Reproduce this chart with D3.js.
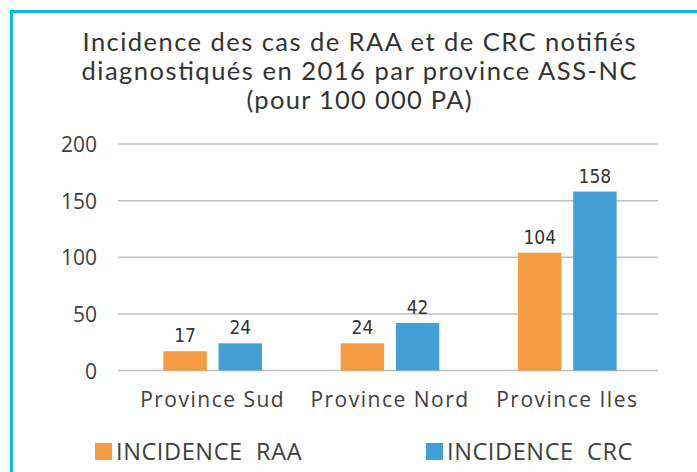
<!DOCTYPE html>
<html>
<head>
<meta charset="utf-8">
<script src="https://cdn.jsdelivr.net/npm/d3@7"></script>
<style>
  body { margin: 0; background: #fff; }
  svg { display: block; }
</style>
</head>
<body>
<div id="chart"></div>
<script>
// data
var provinces = ["Province Sud", "Province Nord", "Province Iles"];
var seriesNames = ["INCIDENCE  RAA", "INCIDENCE  CRC"];
var raa = [17, 24, 104];
var crc = [24, 42, 158];
var yTicks = [0, 50, 100, 150, 200];
var titleLines = ["Incidence des cas de RAA et de CRC notifiés",
                  "diagnostiqués en 2016 par province ASS-NC",
                  "(pour 100 000 PA)"];
var titleWidths = [553, 555, 225];
var colors = ["#f59b42", "#42a0d6"];

var width = 697, height = 472;
var font = "'Open Sans', Lato, sans-serif";

var svg = d3.select("#chart").append("svg")
    .attr("width", width)
    .attr("height", height);

// light blue frame, open on the right and bottom
svg.append("path")
    .attr("d", "M11.5," + height + "V11.5H" + width)
    .attr("fill", "none")
    .attr("stroke", "#12b5ee")
    .attr("stroke-width", 3);

// title
svg.append("g").selectAll("text")
    .data(titleLines)
    .enter().append("text")
    .attr("x", 359)
    .attr("y", function(d, i) { return 51 + i * 29; })
    .attr("text-anchor", "middle")
    .attr("font-family", "Lato, 'Open Sans', sans-serif")
    .attr("font-size", "25.5px")
    .attr("textLength", function(d, i) { return titleWidths[i]; })
    .attr("lengthAdjust", "spacing")
    .attr("fill", "#333")
    .text(function(d) { return d; });

var x0 = d3.scaleBand().domain(provinces).range([124, 656]).paddingInner(0.444).paddingOuter(0.222);
var x1 = d3.scaleBand().domain([0, 1]).range([0, x0.bandwidth()]).paddingInner(0.214);
var y = d3.scaleLinear().domain([0, 200]).range([370.5, 144]);

// grid
svg.append("g").selectAll("line")
    .data(yTicks)
    .enter().append("line")
    .attr("x1", 118).attr("x2", 658)
    .attr("y1", function(d) { return y(d); })
    .attr("y2", function(d) { return y(d); })
    .attr("stroke", "#bfbfbf")
    .attr("stroke-width", 1.5);

// y tick labels
svg.append("g").selectAll("text")
    .data(yTicks)
    .enter().append("text")
    .attr("x", 97)
    .attr("y", function(d) { return y(d) + 8; })
    .attr("text-anchor", "end")
    .attr("font-family", font)
    .attr("font-size", "21px")
    .attr("fill", "#404040")
    .text(function(d) { return d; });

var rows = provinces.map(function(p, i) { return { p: p, v: [raa[i], crc[i]] }; });

var groups = svg.append("g").selectAll("g")
    .data(rows)
    .enter().append("g")
    .attr("transform", function(d) { return "translate(" + x0(d.p) + ",0)"; });

groups.selectAll("rect")
    .data(function(d) { return d.v; })
    .enter().append("rect")
    .attr("x", function(d, i) { return x1(i); })
    .attr("width", x1.bandwidth())
    .attr("y", function(d) { return y(d); })
    .attr("height", function(d) { return y(0) - y(d); })
    .attr("fill", function(d, i) { return colors[i]; });

groups.selectAll("text")
    .data(function(d) { return d.v; })
    .enter().append("text")
    .attr("x", function(d, i) { return x1(i) + x1.bandwidth() / 2; })
    .attr("y", function(d) { return y(d) - 9; })
    .attr("text-anchor", "middle")
    .attr("font-family", "'Liberation Sans Narrow', 'DejaVu Sans Condensed', sans-serif")
    .attr("font-size", "19px")
    .attr("fill", "#333")
    .text(function(d) { return d; });

// category labels
svg.append("g").selectAll("text")
    .data(provinces)
    .enter().append("text")
    .attr("x", function(d) { return x0(d) + x0.bandwidth() / 2; })
    .attr("y", 407)
    .attr("text-anchor", "middle")
    .attr("font-family", font)
    .attr("font-size", "21px")
    .attr("letter-spacing", "1.5px")
    .attr("fill", "#404040")
    .text(function(d) { return d; });

// legend
var legX = [95, 426];
var leg = svg.append("g").selectAll("g")
    .data(seriesNames)
    .enter().append("g")
    .attr("transform", function(d, i) { return "translate(" + legX[i] + ",443)"; });

leg.append("rect")
    .attr("width", 17).attr("height", 17)
    .attr("fill", function(d, i) { return colors[i]; });

leg.append("text")
    .attr("x", 21)
    .attr("y", 17)
    .attr("font-family", font)
    .attr("font-size", "23.5px")
    .attr("letter-spacing", "0.6px")
    .attr("fill", "#404040")
    .style("white-space", "pre")
    .text(function(d) { return d; });
</script>
</body>
</html>
